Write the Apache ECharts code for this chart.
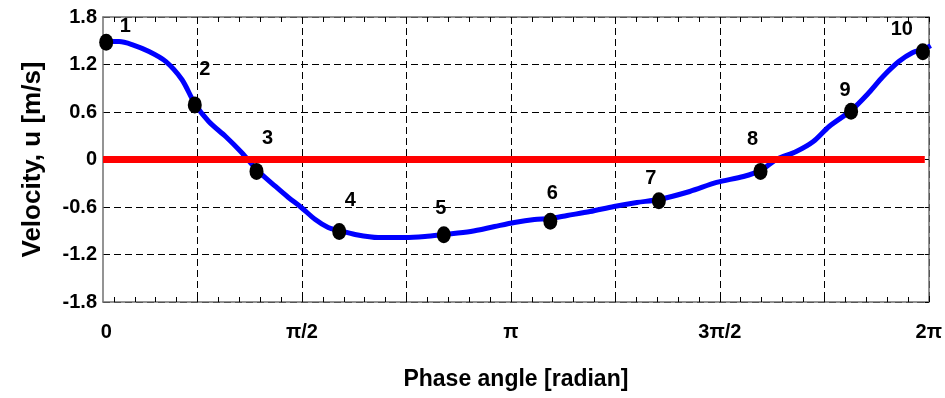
<!DOCTYPE html>
<html>
<head>
<meta charset="utf-8">
<script src="https://cdn.jsdelivr.net/npm/echarts@6/dist/echarts.min.js"></script>
<style>
html,body{margin:0;padding:0;background:#fff;}
#chart{width:945px;height:398px;}
</style>
</head>
<body>
<div id="chart"></div>
<script>
// ---- data ----
const curveX = [0.099,0.196,0.293,0.421,0.548,0.668,0.765,0.870,0.997,1.117,1.229,1.372,1.469,1.566,1.671,1.768,1.851,1.970,2.143,2.345,2.495,2.637,2.839,3.019,3.168,3.318,3.438,3.565,3.737,3.917,4.089,4.254,4.486,4.688,4.890,5.018,5.137,5.287,5.415,5.534,5.699,5.834,5.939,6.058,6.163,6.238,6.298];
const curveY = [1.490,1.490,1.452,1.364,1.237,1.010,0.707,0.480,0.290,0.088,-0.126,-0.341,-0.480,-0.606,-0.758,-0.859,-0.896,-0.947,-0.985,-0.985,-0.972,-0.947,-0.909,-0.846,-0.795,-0.758,-0.745,-0.707,-0.657,-0.593,-0.543,-0.505,-0.404,-0.290,-0.215,-0.139,0.000,0.101,0.227,0.417,0.619,0.846,1.048,1.237,1.351,1.389,1.439];
const pointX = [0.099,0.765,1.229,1.851,2.637,3.438,4.254,5.018,5.699,6.238];
const pointY = [1.48,0.69,-0.15,-0.91,-0.95,-0.78,-0.52,-0.15,0.61,1.36];
const pointLabels = ['1','2','3','4','5','6','7','8','9','10'];
const zeroLineX = [0.075, 6.253];
const zeroLineY = [0, 0];
const xTickLabels = ['0','\u03c0/2','\u03c0','3\u03c0/2','2\u03c0'];
const xTickLabelValues = [0.10, Math.PI/2, Math.PI, 1.5*Math.PI, 2*Math.PI];
const yTickValues = [-1.8,-1.2,-0.6,0,0.6,1.2,1.8];
const yTickLabels = ['-1.8','-1.2','-0.6','0','0.6','1.2','1.8'];

// ---- styling / layout ----
const labelOffsets = [[19,-16],[10,-35],[11,-33],[11,-31],[-3,-26],[2,-28],[-8,-22],[-8,-32],[-6,-21],[-21,-22]];
const xMin = 0.075, xMax = 2*Math.PI;
const majorTicks = [];
for (let k = 1; k <= 8; k++) majorTicks.push(k*Math.PI/4);
const minorTicks = [];
for (let k = 1; k <= 40; k++) minorTicks.push(k*Math.PI/20);
const FONT = '"Liberation Sans", Arial, sans-serif';
const frameColor = '#707070';

const chart = echarts.init(document.getElementById('chart'), null, {renderer:'canvas'});
const zip = (a,b) => a.map((v,i)=>[v,b[i]]);

chart.setOption({
  animation: false,
  backgroundColor: '#fff',
  grid: {left:103, right:12, top:17, bottom:96, containLabel:false},
  xAxis: [
    {
      type:'value', position:'bottom', min:xMin, max:xMax,
      name:'Phase angle [radian]', nameLocation:'middle', nameGap:66,
      nameTextStyle:{fontFamily:FONT, fontWeight:'bold', fontSize:23, color:'#000'},
      axisLine:{show:true, onZero:false, lineStyle:{color:frameColor, width:1.5}},
      axisTick:{show:true, inside:true, length:6, customValues:majorTicks, lineStyle:{color:'#000'}},
      axisLabel:{show:true, customValues:xTickLabelValues, margin:20,
        fontFamily:FONT, fontWeight:'bold', fontSize:20, color:'#000',
        formatter:(v)=>{ for (let i=0;i<xTickLabelValues.length;i++){ if (Math.abs(v-xTickLabelValues[i])<1e-6) return xTickLabels[i]; } return ''; }},
      splitLine:{show:true, lineStyle:{color:'#000', width:1, type:[7,4]}}
    },
    {
      type:'value', position:'top', min:xMin, max:xMax,
      axisLine:{show:true, onZero:false, lineStyle:{color:frameColor, width:1.5}},
      axisTick:{show:true, inside:true, length:5, customValues:minorTicks, lineStyle:{color:'#000'}},
      axisLabel:{show:false}, splitLine:{show:false}
    },
    {
      type:'value', position:'bottom', min:xMin, max:xMax,
      axisLine:{show:false, onZero:false},
      axisTick:{show:true, inside:true, length:5, customValues:minorTicks, lineStyle:{color:'#000'}},
      axisLabel:{show:false}, splitLine:{show:false}
    }
  ],
  yAxis: [
    {
      type:'value', position:'left', min:-1.8, max:1.8, interval:0.6,
      name:'Velocity, u [m/s]', nameLocation:'middle', nameGap:57, nameRotate:90,
      nameTextStyle:{fontFamily:FONT, fontWeight:'bold', fontSize:26, color:'#000'},
      axisLine:{show:true, onZero:false, lineStyle:{color:frameColor, width:1.5}},
      axisTick:{show:false},
      axisLabel:{show:true, margin:6, customValues:yTickValues, fontFamily:FONT, fontWeight:'bold', fontSize:20, color:'#000',
        formatter:(v)=>{ for (let i=0;i<yTickValues.length;i++){ if (Math.abs(v-yTickValues[i])<1e-6) return yTickLabels[i]; } return ''; }},
      splitLine:{show:true, lineStyle:{color:'#000', width:1, type:[7,4]}}
    },
    {
      type:'value', position:'right', min:-1.8, max:1.8, interval:0.6,
      axisLine:{show:true, onZero:false, lineStyle:{color:frameColor, width:1.5}},
      axisTick:{show:true, inside:true, length:4, lineStyle:{color:'#000'}},
      axisLabel:{show:false}, splitLine:{show:false}
    }
  ],
  series: [
    {
      type:'line', xAxisIndex:0, yAxisIndex:0, data:zip(curveX, curveY),
      showSymbol:false, symbol:'none', smooth:0.3, clip:false, z:3,
      lineStyle:{color:'#0000ff', width:5}
    },
    {
      type:'line', xAxisIndex:0, yAxisIndex:0, data:zip(zeroLineX, zeroLineY),
      showSymbol:false, symbol:'none', z:4,
      lineStyle:{color:'#ff0000', width:7, cap:'butt'}
    },
    {
      type:'scatter', xAxisIndex:0, yAxisIndex:0, z:5,
      symbol:'circle', symbolSize:[14,17],
      itemStyle:{color:'#000', opacity:1},
      data: pointX.map((x,i)=>({
        value:[x, pointY[i]],
        label:{show:true, position:'inside', offset:labelOffsets[i], formatter:pointLabels[i],
          fontFamily:FONT, fontWeight:'bold', fontSize:20, color:'#000', opacity:1}
      }))
    }
  ]
});
</script>
</body>
</html>
